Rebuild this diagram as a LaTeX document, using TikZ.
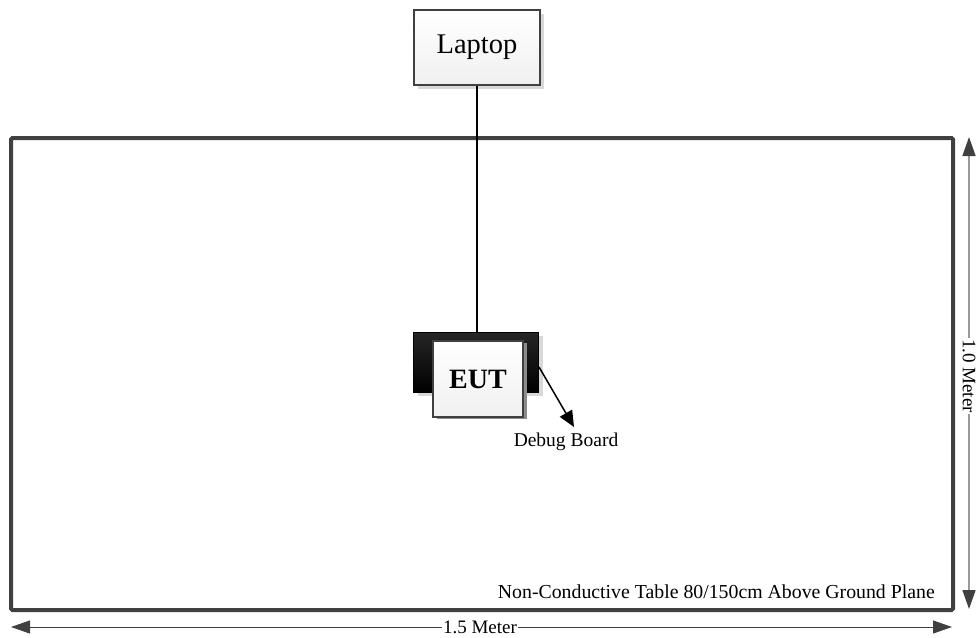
\documentclass[tikz,border=0pt]{standalone}
\usepackage{fontspec}
\setmainfont{Liberation Serif}
\usetikzlibrary{arrows.meta,shadows}
\definecolor{bord}{HTML}{404040}
\definecolor{shad}{HTML}{D8D8D8}
\tikzset{
  boxst/.style={draw=bord, line width=2.6pt, top color=white, bottom color=black!6, drop shadow={shadow xshift=4pt, shadow yshift=-4pt, fill=shad, opacity=1}},
  dimarrow/.style={draw=bord, line width=1pt},
  tipst/.tip={Triangle[length=19pt, width=13pt, color=bord]},
}
\begin{document}
\begin{tikzpicture}[x=1pt,y=-1pt]
\useasboundingbox (0,0) rectangle (976,637);
% table
\node (table) [draw=bord, line width=4pt, rounded corners=1.5pt, minimum width=942pt, minimum height=472pt, inner sep=0pt] at (482,374) {};
\node (tabletext) [anchor=base east, inner sep=0pt, font=\fontsize{19.8}{22}\selectfont] at (935,598) {Non-Conductive Table 80/150cm Above Ground Plane};
% laptop
\node (laptop) [boxst, minimum width=126pt, minimum height=75pt, inner sep=0pt, font=\fontsize{28.5}{30}\selectfont] at (477,47.5) {Laptop};
% debug board (black) and EUT
\node (dbg) [draw=black, line width=1pt, top color=black!85, bottom color=black, minimum width=125pt, minimum height=60pt, inner sep=0pt, drop shadow={shadow xshift=4pt, shadow yshift=-4pt, fill=shad, opacity=1}] at (476,362) {};
\node (eut) [draw=bord, line width=2.4pt, top color=white, bottom color=black!6, minimum width=90pt, minimum height=76pt, inner sep=0pt, font=\bfseries\fontsize{28}{30}\selectfont, drop shadow={shadow xshift=3.5pt, shadow yshift=-2pt, fill=black!45, opacity=1}] at (478,379) {EUT};
\draw[line width=1.3pt] (laptop.south) -- (laptop.south |- dbg.north);
% debug label
\node (dbglabel) [font=\fontsize{19.5}{22}\selectfont, inner sep=0pt] at (566,442) {Debug Board};
\coordinate (dbgtip) at (574,427);
\draw[line width=1.5pt, -{Triangle[length=16pt, width=14pt]}] (dbg.east) ++(0,5) -- (dbgtip);
% horizontal dimension
\coordinate (hl) at (11,627);
\coordinate (hr) at (952,627);
\draw[dimarrow, tipst-tipst] (hl) -- (hr);
\node (hlabel) [fill=white, inner sep=1.5pt, font=\fontsize{19}{20}\selectfont] at (480,627) {1.5 Meter};
% vertical dimension
\coordinate (vt) at (969,137);
\coordinate (vb) at (969,609);
\draw[draw=black!40, line width=1.5pt, tipst-tipst] (vt) -- (vb);
\node (vlabel) [fill=white, rotate=-90, inner sep=1.5pt, font=\fontsize{19}{20}\selectfont] at (969,376) {1.0 Meter};
\end{tikzpicture}
\end{document}
